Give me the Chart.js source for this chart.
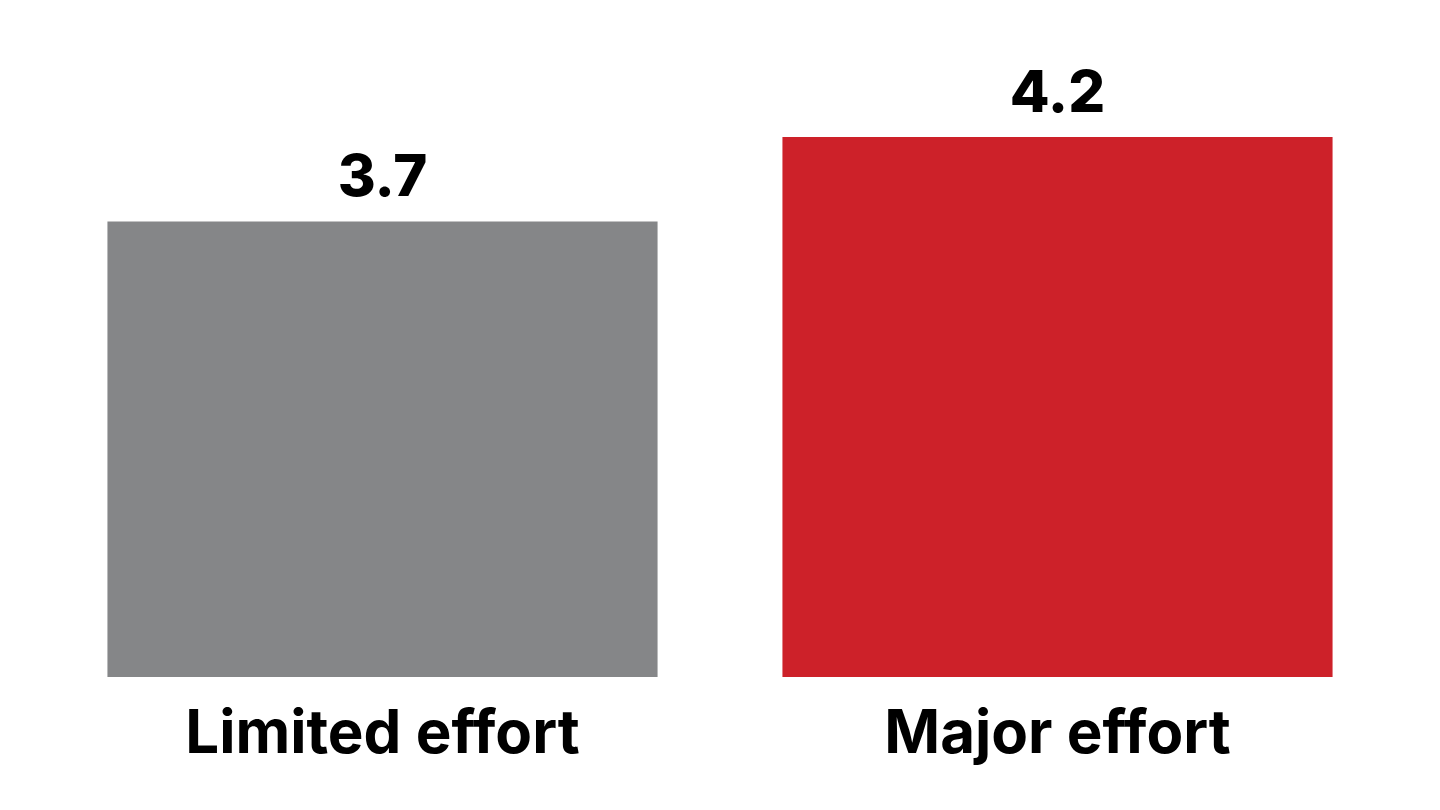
<!DOCTYPE html>
<html>
<head>
<meta charset="utf-8">
<script src="https://cdn.jsdelivr.net/npm/chart.js@4.4.0/dist/chart.umd.min.js"></script>
<style>
html,body{margin:0;padding:0;background:#fff;}
#wrap{width:1440px;height:810px;position:relative;}
</style>
</head>
<body>
<div id="wrap"><canvas id="c"></canvas></div>
<script>
const categories = ["Limited effort", "Major effort"];
const values = [3.7, 4.2];
const valueLabels = ["3.7", "4.2"];
const barColors = ["#858688", "#CD2129"];

const valueLabelPlugin = {
  id: 'valueLabels',
  afterDatasetsDraw(chart) {
    const ctx = chart.ctx;
    const meta = chart.getDatasetMeta(0);
    ctx.save();
    ctx.fillStyle = '#000';
    ctx.font = '800 58px Inter, "Open Sans", sans-serif';
    ctx.textAlign = 'center';
    ctx.textBaseline = 'alphabetic';
    meta.data.forEach((bar, i) => {
      ctx.fillText(valueLabels[i], bar.x, bar.y - 25);
    });
    ctx.restore();
  }
};

new Chart(document.getElementById('c'), {
  type: 'bar',
  data: {
    labels: categories,
    datasets: [{
      data: values,
      backgroundColor: barColors,
      borderWidth: 0,
      barPercentage: 1,
      categoryPercentage: 0.815
    }]
  },
  options: {
    responsive: true,
    maintainAspectRatio: false,
    animation: false,
    layout: { padding: { left: 45, right: 45, top: 2, bottom: 17 } },
    plugins: { legend: { display: false }, tooltip: { enabled: false } },
    scales: {
      y: { display: false, min: 1, max: 5 },
      x: {
        grid: { display: false, drawTicks: false },
        border: { display: false },
        ticks: {
          color: '#000',
          padding: 22,
          font: { family: 'Inter, "Open Sans", sans-serif', size: 60, weight: '700' }
        }
      }
    }
  },
  plugins: [valueLabelPlugin]
});
</script>
</body>
</html>
